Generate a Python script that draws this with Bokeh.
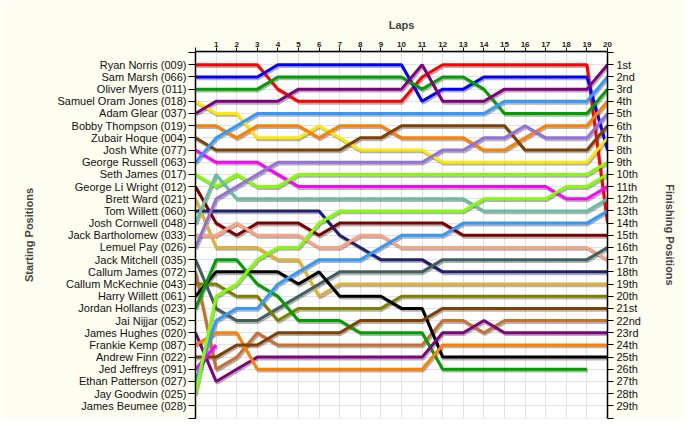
from bokeh.plotting import figure
from bokeh.models import Range1d, FixedTicker, LinearAxis, ColumnDataSource
from bokeh.transform import dodge
from bokeh.embed import file_html
from bokeh.resources import INLINE

# ---------------- data ----------------
LAPS = [0, 1, 2, 3, 4, 5, 6, 7, 8, 9, 10, 11, 12, 13, 14, 15, 16, 17, 18, 19, 20]

STARTERS = [
    "Ryan Norris (009)", "Sam Marsh (066)", "Oliver Myers (011)", "Samuel Oram Jones (018)",
    "Adam Glear (037)", "Bobby Thompson (019)", "Zubair Hoque (004)", "Josh White (077)",
    "George Russell (063)", "Seth James (017)", "George Li Wright (012)", "Brett Ward (021)",
    "Tom Willett (060)", "Josh Cornwell (048)", "Jack Bartholomew (033)", "Lemuel Pay (026)",
    "Jack Mitchell (035)", "Callum James (072)", "Callum McKechnie (043)", "Harry Willett (061)",
    "Jordan Hollands (023)", "Jai Nijjar (052)", "James Hughes (020)", "Frankie Kemp (087)",
    "Andrew Finn (022)", "Jed Jeffreys (091)", "Ethan Patterson (027)", "Jay Goodwin (025)",
    "James Beumee (028)",
]

FINISH_LABELS = [
    "1st", "2nd", "3rd", "4th", "5th", "6th", "7th", "8th", "9th", "10th",
    "11th", "12th", "13th", "14th", "15th", "16th", "17th", "18th", "19th", "20th",
    "21st", "22nd", "23rd", "24th", "25th", "26th", "27th", "28th", "29th",
]

# position of each driver at the end of each lap (lap 0 = grid)
ryan_norris       = [1, 1, 1, 1, 3, 4, 4, 4, 4, 4, 4, 2, 1, 1, 1, 1, 1, 1, 1, 1, 14]
sam_marsh         = [2, 2, 2, 2, 1, 1, 1, 1, 1, 1, 1, 4, 3, 3, 2, 2, 2, 2, 2, 2, 8]
oliver_myers      = [3, 3, 3, 3, 2, 2, 2, 2, 2, 2, 2, 3, 2, 2, 3, 5, 5, 5, 5, 5, 3]
samuel_oram_jones = [4, 5, 5, 7, 7, 7, 6, 7, 8, 8, 8, 8, 9, 9, 9, 9, 9, 9, 9, 9, 7]
adam_glear        = [5, 4, 4, 4, 4, 3, 3, 3, 3, 3, 3, 1, 4, 4, 4, 3, 3, 3, 3, 3, 1]
bobby_thompson    = [6, 6, 7, 6, 6, 6, 7, 6, 6, 6, 7, 7, 7, 7, 8, 8, 7, 6, 6, 6, 4]
zubair_hoque      = [7, 8, 8, 8, 8, 8, 8, 8, 7, 7, 6, 6, 6, 6, 6, 6, 8, 8, 8, 8, 6]
josh_white        = [8, 9, 9, 9, 10, 11, 11, 11, 11, 11, 11, 11, 11, 11, 11, 11, 11, 11, 12, 12, 11]
george_russell    = [9, 7, 6, 5, 5, 5, 5, 5, 5, 5, 5, 5, 5, 5, 5, 4, 4, 4, 4, 4, 2]
seth_james        = [10, 11, 10, 11, 11, 10, 10, 10, 10, 10, 10, 10, 10, 10, 10, 10, 10, 10, 10, 10, 9]
george_li_wright  = [11, 14, 15, 14, 14, 14, 15, 14, 14, 14, 14, 14, 14, 15, 15, 15, 15, 15, 15, 15, 15]
brett_ward        = [12, 16, 16, 16, 17, 17, 20, 19, 19, 19, 19, 19, 19, 19, 19, 19, 19, 19, 19, 19, 19]
tom_willett       = [13, 13, 13, 13, 13, 13, 13, 15, 16, 17, 17, 17, 18, 18, 18, 18, 18, 18, 18, 18, 18]
josh_cornwell     = [14, 10, 12, 12, 12, 12, 12, 12, 12, 12, 12, 12, 12, 12, 13, 13, 13, 13, 13, 13, 12]
jack_bartholomew  = [15, 15, 14, 15, 15, 15, 16, 16, 15, 15, 16, 16, 16, 16, 16, 16, 16, 16, 16, 16, 17]
lemuel_pay        = [16, 12, 11, 10, 9, 9, 9, 9, 9, 9, 9, 9, 8, 8, 7, 7, 6, 7, 7, 7, 5]
jack_mitchell     = [17, 21, 22, 22, 21, 20, 19, 18, 18, 18, 18, 18, 17, 17, 17, 17, 17, 17, 17, 17, 16]
callum_james      = [18, 26, 25, 23, 24, 24, 24, 24, 24, 24, 24, 24, 22, 22, 23, 22, 22, 22, 22, 22, 22]
callum_mckechnie  = [19, 19, 20, 20, 22, 21, 21, 21, 21, 21, 20, 20, 20, 20, 20, 20, 20, 20, 20, 20, 20]
harry_willett     = [20, 18, 18, 18, 18, 19, 18, 20, 20, 20, 21, 21, 25, 25, 25, 25, 25, 25, 25, 25, 25]
jordan_hollands   = [21, 17, 17, 19, 20, 22, 22, 22, 23, 23, 23, 23, 26, 26, 26, 26, 26, 26, 26, 26]
james_hughes      = [23, 27, 26, 25, 25, 25, 25, 25, 25, 25, 25, 25, 23, 23, 22, 23, 23, 23, 23, 23, 23]
frankie_kemp      = [24, 23, 23, 26, 26, 26, 26, 26, 26, 26, 26, 26, 24, 24, 24, 24, 24, 24, 24, 24, 24]
andrew_finn       = [25, 25, 24, 24, 23, 23, 23, 23, 22, 22, 22, 22, 21, 21, 21, 21, 21, 21, 21, 21, 21]
jed_jeffreys      = [26, 24]
ethan_patterson   = [27, 22, 21, 21, 19, 18, 17, 17, 17, 16, 15, 15, 15, 14, 14, 14, 14, 14, 14, 14, 13]
jay_goodwin       = [28, 20, 19, 17, 16, 16, 14, 13, 13, 13, 13, 13, 13, 13, 12, 12, 12, 12, 11, 11, 10]

# ---------------- styles ----------------
SERIES = [
    (ryan_norris, "#ff0000"), (sam_marsh, "#0000ff"), (oliver_myers, "#00a000"),
    (samuel_oram_jones, "#ffe800"), (adam_glear, "#800080"), (bobby_thompson, "#ff8000"),
    (zubair_hoque, "#804000"), (josh_white, "#ff00ff"), (george_russell, "#3399ff"),
    (seth_james, "#80ff00"), (george_li_wright, "#800000"), (brett_ward, "#e0b030"),
    (tom_willett, "#202070"), (josh_cornwell, "#66c0a0"), (jack_bartholomew, "#ffa080"),
    (lemuel_pay, "#9370db"), (jack_mitchell, "#406060"), (callum_james, "#c87030"),
    (callum_mckechnie, "#808000"), (harry_willett, "#000000"), (jordan_hollands, "#00a000"),
    (james_hughes, "#800080"), (frankie_kemp, "#ff8000"), (andrew_finn, "#804000"),
    (jed_jeffreys, "#ff00ff"), (ethan_patterson, "#3399ff"), (jay_goodwin, "#80ff00"),
]

FONT = "Liberation Sans"
BG = "#fdfdf0"

p = figure(width=684, height=419, output_backend="svg", toolbar_location=None,
           x_axis_location="above", y_axis_location="left",
           x_range=Range1d(0, 20), y_range=Range1d(30.04, -0.09),
           min_border_left=195, min_border_right=77, min_border_top=51, min_border_bottom=1,
           background_fill_color="white", border_fill_color=BG, outline_line_color=None)

n_rows = len(STARTERS)
row_ticks = list(range(0, n_rows + 2))
left_over = {i + 1: name for i, name in enumerate(STARTERS)}
left_over.update({0: "", n_rows + 1: ""})
right_over = {i + 1: lab for i, lab in enumerate(FINISH_LABELS)}
right_over.update({0: "", n_rows + 1: ""})
lap_over = {l: (str(l) if l > 0 else "") for l in LAPS}

# top axis
xa = p.xaxis[0]
xa.ticker = FixedTicker(ticks=LAPS)
xa.major_label_overrides = lap_over
xa.minor_tick_line_color = None
xa.major_tick_out = 4
xa.major_tick_in = 0
xa.major_label_standoff = 1
xa.major_label_text_font = FONT
xa.major_label_text_font_size = "8px"
xa.major_label_text_font_style = "bold"
xa.major_label_text_color = "#222222"
xa.axis_line_width = 1.5
xa.axis_label = "Laps"
xa.axis_label_text_font = FONT
xa.axis_label_text_font_size = "11px"
xa.axis_label_text_font_style = "bold"
xa.axis_label_standoff = 8

# left axis
ya = p.yaxis[0]
ya.ticker = FixedTicker(ticks=row_ticks)
ya.major_label_overrides = left_over
ya.minor_tick_line_color = None
ya.major_tick_out = 7
ya.major_tick_in = 0
ya.major_label_standoff = 2
ya.major_label_text_font = FONT
ya.major_label_text_font_size = "11px"
ya.major_label_text_color = "#111111"
ya.axis_line_width = 1.5
ya.axis_label = "Starting Positions"
ya.axis_label_text_font = FONT
ya.axis_label_text_font_size = "11px"
ya.axis_label_text_font_style = "bold"
ya.axis_label_standoff = 20

# right axis
ra = LinearAxis(ticker=FixedTicker(ticks=row_ticks), major_label_overrides=right_over)
ra.minor_tick_line_color = None
ra.major_tick_out = 6
ra.major_tick_in = 0
ra.major_label_standoff = 3
ra.major_label_text_font = FONT
ra.major_label_text_font_size = "11px"
ra.major_label_text_color = "#111111"
ra.axis_line_width = 1.5
ra.axis_label = "Finishing Positions"
ra.axis_label_text_font = FONT
ra.axis_label_text_font_size = "11px"
ra.axis_label_text_font_style = "bold"
ra.axis_label_standoff = 20
p.add_layout(ra, "right")

p.xgrid.grid_line_color = "#e2e2e2"
p.ygrid.grid_line_color = "#e2e2e2"
p.xgrid.ticker = FixedTicker(ticks=LAPS)

sources = []
for pos, color in SERIES:
    src = ColumnDataSource(data=dict(lap=LAPS[:len(pos)], pos=pos))
    sources.append((src, color))

# drop shadows
for src, color in sources:
    p.line(x=dodge("lap", 0.05, range=p.x_range), y=dodge("pos", 0.15, range=p.y_range),
           source=src, line_color="#000000", line_alpha=0.3, line_width=3)
# lines
for src, color in sources:
    p.line(x="lap", y="pos", source=src, line_color=color, line_width=3)

open("out.html", "w").write(file_html(p, INLINE))
